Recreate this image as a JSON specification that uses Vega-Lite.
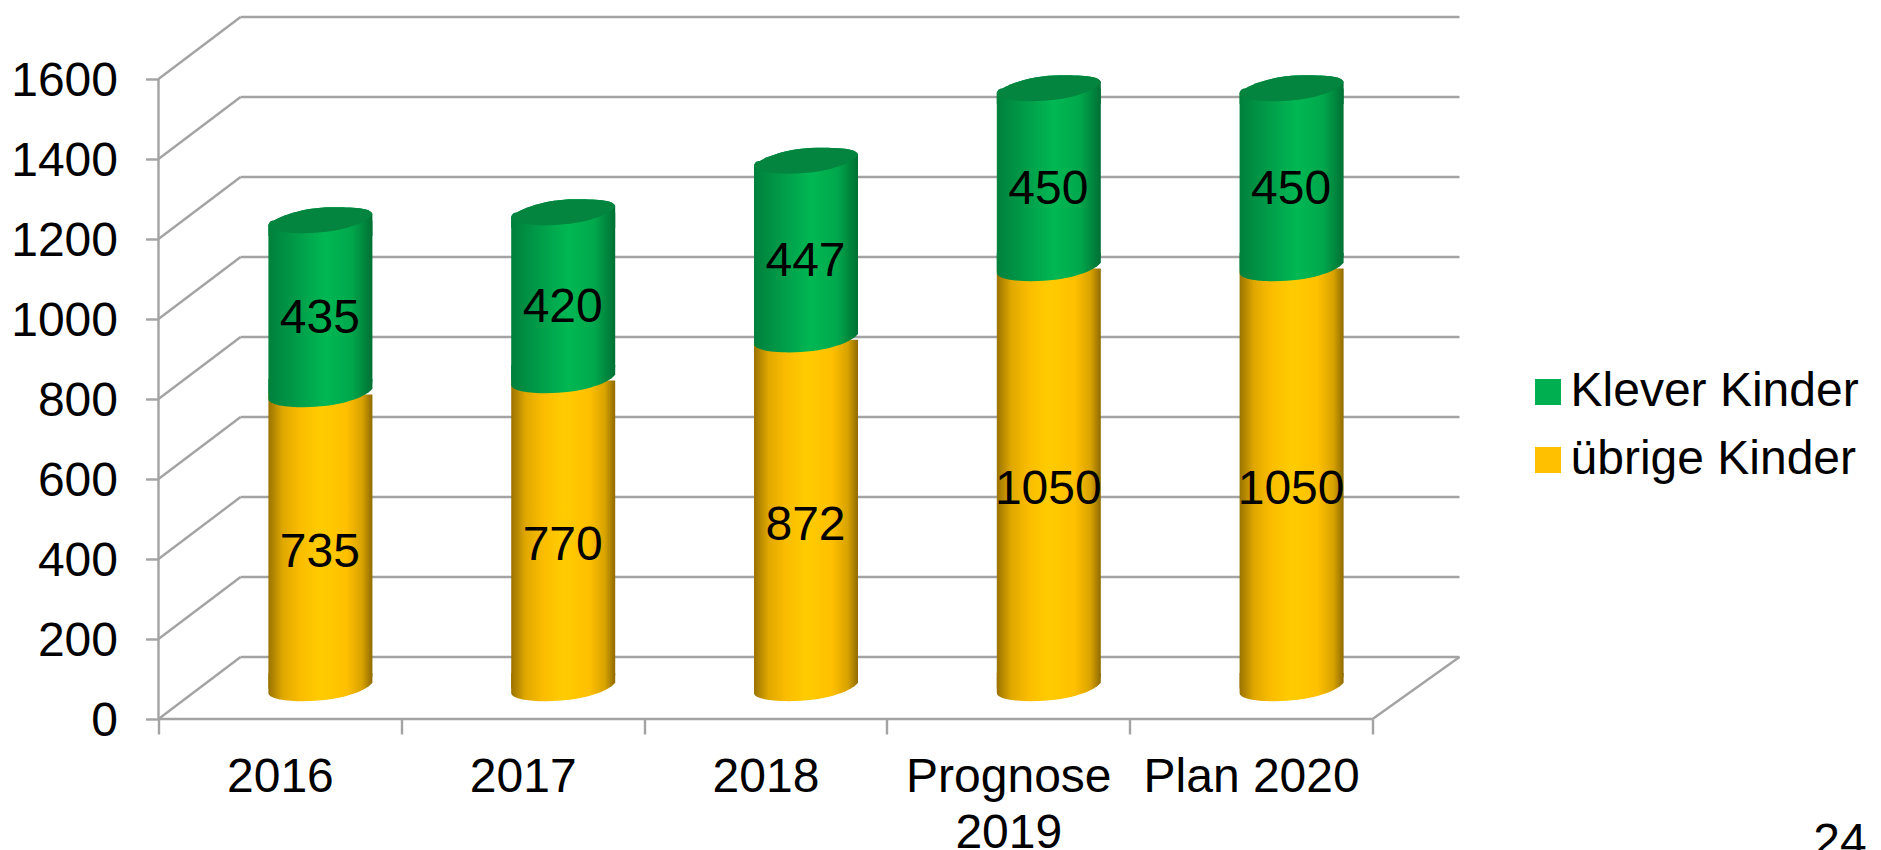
{
"$schema":"https://vega.github.io/schema/vega-lite/v6.json",
"width":1301,"height":704,
"autosize":{"type":"none"},
"padding":{"left":158.5,"top":15,"right":421.5,"bottom":131},
"background":"white",
"config":{"font":"Liberation Sans","view":{"stroke":null}},
"datasets":{
"kinder":[
{"jahr":"2016","serie":"übrige Kinder","wert":735},
{"jahr":"2016","serie":"Klever Kinder","wert":435},
{"jahr":"2017","serie":"übrige Kinder","wert":770},
{"jahr":"2017","serie":"Klever Kinder","wert":420},
{"jahr":"2018","serie":"übrige Kinder","wert":872},
{"jahr":"2018","serie":"Klever Kinder","wert":447},
{"jahr":"Prognose 2019","serie":"übrige Kinder","wert":1050},
{"jahr":"Prognose 2019","serie":"Klever Kinder","wert":450},
{"jahr":"Plan 2020","serie":"übrige Kinder","wert":1050},
{"jahr":"Plan 2020","serie":"Klever Kinder","wert":450}
],
"gitter":[{"stufe":0},{"stufe":200},{"stufe":400},{"stufe":600},{"stufe":800},{"stufe":1000},{"stufe":1200},{"stufe":1400},{"stufe":1600}],
"seite":[{"nummer":"24"}]
},
"data":{"name":"kinder"},
"transform":[
  {"stack":"wert","groupby":["jahr"],"sort":[{"field":"serie","order":"descending"}],"as":["von","bis"]},
  {"calculate":"(datum.von+datum.bis)/2","as":"mitte"}
],
"resolve":{"scale":{"x":"independent"},"axis":{"x":"independent"}},
"layer":[
{"data":{"name":"gitter"},
 "mark":{"type":"rule","color":"#a3a3a3","strokeWidth":2.4,"yOffset":-62},
 "encoding":{
  "x":{"datum":0.338,"type":"quantitative","scale":{"domain":[0,5.358],"range":[0,1301]},"axis":null},
  "x2":{"datum":5.358},
  "y":{"field":"stufe","type":"quantitative","scale":{"domain":[0,1760],"nice":false},
   "axis":{"values":[0,200,400,600,800,1000,1200,1400,1600],"format":"d","grid":false,"domain":false,"title":null,"tickColor":"#a3a3a3","tickWidth":2.4,"tickSize":13,"labelFontSize":48,"labelColor":"#000000","labelPadding":28,"labelOffset":2.5}}
 }},
{"data":{"name":"gitter"},
 "mark":{"type":"rule","color":"#a3a3a3","strokeWidth":2.4,"y2Offset":-62},
 "encoding":{
  "x":{"datum":0,"type":"quantitative","scale":{"domain":[0,5.358],"range":[0,1301]},"axis":null},
  "x2":{"datum":0.338},
  "y":{"field":"stufe","type":"quantitative"},
  "y2":{"field":"stufe"}
 }},
{"data":{"values":[{"stufe":0}]},
 "mark":{"type":"rule","color":"#a3a3a3","strokeWidth":2.4,"y2Offset":-62},
 "encoding":{
  "x":{"datum":5,"type":"quantitative","scale":{"domain":[0,5.358],"range":[0,1301]},"axis":null},
  "x2":{"datum":5.358},
  "y":{"field":"stufe","type":"quantitative"},
  "y2":{"field":"stufe"}
 }},
{"data":{"values":[{"stufe":0}]},
 "mark":{"type":"rule","color":"#a3a3a3","strokeWidth":2.4},
 "encoding":{
  "x":{"datum":0,"type":"quantitative","scale":{"domain":[0,5.358],"range":[0,1301]},"axis":null},
  "x2":{"datum":5},
  "y":{"field":"stufe","type":"quantitative"}
 }},
{"data":{"values":[{"von":0,"bis":1600}]},
 "mark":{"type":"rule","color":"#a3a3a3","strokeWidth":2.4},
 "encoding":{
  "x":{"datum":0,"type":"quantitative","scale":{"domain":[0,5.358],"range":[0,1301]},"axis":null},
  "y":{"field":"von","type":"quantitative"},
  "y2":{"field":"bis"}
 }},
{"data":{"name":"seite"},
 "mark":{"type":"text","fontSize":48,"color":"#000000","baseline":"middle","align":"center"},
 "encoding":{
  "x":{"datum":6.925,"type":"quantitative","scale":{"domain":[0,5.358],"range":[0,1301]},"axis":null},
  "y":{"datum":-310,"type":"quantitative"},
  "text":{"field":"nummer"}
 }},
 {"mark":{"type":"bar","width":90,"xOffset":40.5,"yOffset":-30.5,"y2Offset":-30.5},
  "encoding":{
   "x":{"field":"jahr","type":"nominal","sort":null,"scale":{"range":[0,1214],"paddingInner":0,"paddingOuter":0},
    "axis":{"title":null,"bandPosition":0,"tickBand":"extent","domain":false,"tickColor":"#a3a3a3","tickWidth":2.4,"tickSize":15,"labelAngle":0,"labelFontSize":48,"labelColor":"#000000","labelPadding":19,"labelLimit":400,"labelOverlap":false,"labelLineHeight":56,"labelExpr":"datum.label == 'Prognose 2019' ? ['Prognose','2019'] : datum.label"}},
   "y":{"field":"von","type":"quantitative"},
   "y2":{"field":"bis"},
   "color":{"field":"serie","type":"nominal","scale":{"domain":["Klever Kinder","übrige Kinder"],"range":["#00B050","#FFC000"]},
    "legend":{"title":null,"orient":"none","legendX":1365.5,"legendY":353,"symbolType":"square","symbolSize":676,"symbolStrokeWidth":0,"labelFontSize":48,"labelColor":"#000000","labelOffset":-1.5,"labelLimit":400,"rowPadding":20}}
  }},
 {"transform":[{"filter":"datum.serie == 'übrige Kinder'"}],
  "mark":{"type":"bar","width":104,"xOffset":40.5,"yOffset":-30.5,"y2Offset":-30.5,"cornerRadiusBottomRight":14,"fill":{"x1":0,"x2":1,"y1":0,"y2":0,"gradient":"linear","stops":[{"offset":0,"color":"#9a7300"},{"offset":0.14,"color":"#e0a800"},{"offset":0.3,"color":"#fabc00"},{"offset":0.5,"color":"#ffcc00"},{"offset":0.75,"color":"#ffc000"},{"offset":0.9,"color":"#d9a300"},{"offset":1,"color":"#8f6b00"}]}},
  "encoding":{"x":{"field":"jahr","type":"nominal","sort":null,"scale":{"range":[0,1214],"paddingInner":0,"paddingOuter":0},"axis":null},"y":{"field":"von","type":"quantitative"},"y2":{"field":"bis"}}},
 {"transform":[{"filter":"datum.serie == 'übrige Kinder'"}],
  "mark":{"type":"point","filled":true,"opacity":1,"strokeWidth":0,"size":10816,"xOffset":40.5,"yOffset":-30.5,"shape":"M-1,-0.3 L-1,0.085 C-1,0.2 -0.65,0.245 -0.33,0.245 C0.3,0.245 0.85,0.08 1,-0.11 L1,-0.3 Z","fill":{"x1":0,"x2":1,"y1":0,"y2":0,"gradient":"linear","stops":[{"offset":0,"color":"#9a7300"},{"offset":0.14,"color":"#e0a800"},{"offset":0.3,"color":"#fabc00"},{"offset":0.5,"color":"#ffcc00"},{"offset":0.75,"color":"#ffc000"},{"offset":0.9,"color":"#d9a300"},{"offset":1,"color":"#8f6b00"}]}},
  "encoding":{"x":{"field":"jahr","type":"nominal","sort":null,"scale":{"range":[0,1214],"paddingInner":0,"paddingOuter":0},"axis":null},"y":{"field":"von","type":"quantitative"}}},
 {"transform":[{"filter":"datum.serie == 'Klever Kinder'"}],
  "mark":{"type":"bar","width":104,"xOffset":40.5,"yOffset":-30.5,"y2Offset":-30.5,"cornerRadiusBottomRight":14,"cornerRadiusTopLeft":5,"fill":{"x1":0,"x2":1,"y1":0,"y2":0,"gradient":"linear","stops":[{"offset":0,"color":"#00803c"},{"offset":0.25,"color":"#009a48"},{"offset":0.55,"color":"#00b853"},{"offset":0.8,"color":"#00a84c"},{"offset":1,"color":"#007034"}]}},
  "encoding":{"x":{"field":"jahr","type":"nominal","sort":null,"scale":{"range":[0,1214],"paddingInner":0,"paddingOuter":0},"axis":null},"y":{"field":"von","type":"quantitative"},"y2":{"field":"bis"}}},
 {"transform":[{"filter":"datum.serie == 'Klever Kinder'"}],
  "mark":{"type":"point","filled":true,"opacity":1,"strokeWidth":0,"size":10816,"xOffset":40.5,"yOffset":-30.5,"shape":"M-1,-0.3 L-1,0.085 C-1,0.2 -0.65,0.245 -0.33,0.245 C0.3,0.245 0.85,0.08 1,-0.11 L1,-0.3 Z","fill":{"x1":0,"x2":1,"y1":0,"y2":0,"gradient":"linear","stops":[{"offset":0,"color":"#00803c"},{"offset":0.25,"color":"#009a48"},{"offset":0.55,"color":"#00b853"},{"offset":0.8,"color":"#00a84c"},{"offset":1,"color":"#007034"}]}},
  "encoding":{"x":{"field":"jahr","type":"nominal","sort":null,"scale":{"range":[0,1214],"paddingInner":0,"paddingOuter":0},"axis":null},"y":{"field":"von","type":"quantitative"}}},
 {"transform":[{"filter":"datum.serie == 'Klever Kinder'"}],
  "mark":{"type":"point","filled":true,"opacity":1,"strokeWidth":0,"size":10816,"xOffset":40.5,"yOffset":-30.5,"shape":"M-1,0.3 L-1,0.085 C-0.85,-0.08 -0.3,-0.255 0.2,-0.255 C0.6,-0.255 1,-0.25 1,-0.11 L1,0.3 Z","fill":{"x1":0,"x2":1,"y1":0,"y2":0,"gradient":"linear","stops":[{"offset":0,"color":"#00803c"},{"offset":0.25,"color":"#009a48"},{"offset":0.55,"color":"#00b853"},{"offset":0.8,"color":"#00a84c"},{"offset":1,"color":"#007034"}]}},
  "encoding":{"x":{"field":"jahr","type":"nominal","sort":null,"scale":{"range":[0,1214],"paddingInner":0,"paddingOuter":0},"axis":null},"y":{"field":"bis","type":"quantitative"}}},
 {"transform":[{"filter":"datum.serie == 'Klever Kinder'"}],
  "mark":{"type":"point","filled":true,"opacity":1,"strokeWidth":0,"size":10816,"xOffset":40.5,"yOffset":-30.5,"shape":"M-1,0.085 C-0.85,-0.08 -0.3,-0.255 0.2,-0.255 C0.6,-0.255 1,-0.25 1,-0.11 C0.85,0.08 0.3,0.245 -0.33,0.245 C-0.65,0.245 -1,0.2 -1,0.085 Z","fill":"#03853f"},
  "encoding":{"x":{"field":"jahr","type":"nominal","sort":null,"scale":{"range":[0,1214],"paddingInner":0,"paddingOuter":0},"axis":null},"y":{"field":"bis","type":"quantitative"}}},
 {"mark":{"type":"text","fontSize":48,"color":"#000000","baseline":"middle","align":"center","xOffset":40,"yOffset":-19},
  "encoding":{"x":{"field":"jahr","type":"nominal","sort":null,"scale":{"range":[0,1214],"paddingInner":0,"paddingOuter":0},"axis":null},"y":{"field":"mitte","type":"quantitative"},"text":{"field":"wert","type":"quantitative"}}}
]
}
